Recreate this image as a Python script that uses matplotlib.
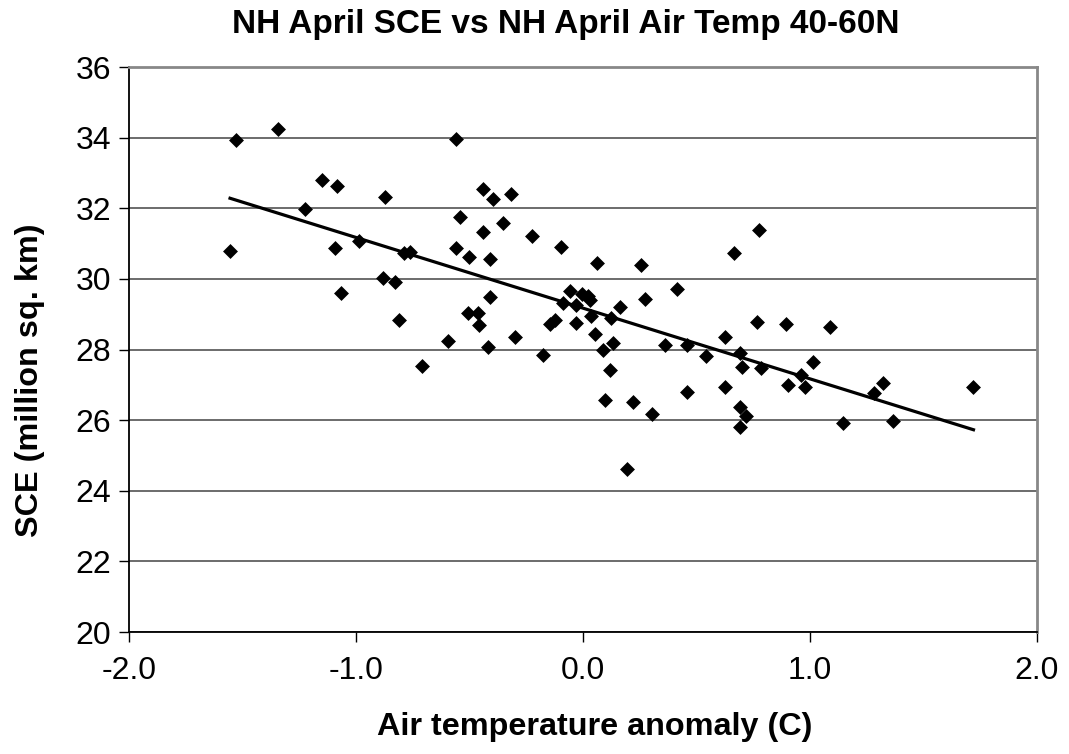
import matplotlib
matplotlib.use("Agg")
import matplotlib.pyplot as plt
import numpy as np

plt.rcParams["font.family"] = ["Liberation Sans", "DejaVu Sans"]

# Air temperature anomaly (C) vs April snow cover extent (million sq. km)
temp_anomaly = [
    -1.555, -1.529, -1.344, -1.223, -1.151, -1.085, -1.093, -1.067, -0.985, -0.874,
    -0.882, -0.827, -0.809, -0.790, -0.762, -0.708, -0.596, -0.560, -0.559, -0.542,
    -0.502, -0.505, -0.461, -0.457, -0.439, -0.395, -0.439, -0.410, -0.410, -0.420,
    -0.354, -0.319, -0.300, -0.226, -0.175, -0.145, -0.123, -0.098, -0.089, -0.057,
    -0.031, -0.031, -0.006, 0.023, 0.031, 0.034, 0.053, 0.060, 0.087, 0.097,
    0.119, 0.122, 0.134, 0.163, 0.192, 0.219, 0.257, 0.273, 0.302, 0.360,
    0.413, 0.460, 0.460, 0.542, 0.624, 0.624, 0.664, 0.692, 0.700, 0.692,
    0.718, 0.692, 0.765, 0.774, 0.783, 0.894, 0.903, 0.959, 0.980, 1.015,
    1.088, 1.144, 1.282, 1.320, 1.364, 1.720,
]
sce = [
    30.79, 33.93, 34.24, 31.98, 32.80, 32.63, 30.87, 29.61, 31.08, 32.33,
    30.02, 29.90, 28.84, 30.72, 30.77, 27.53, 28.25, 33.95, 30.87, 31.74,
    30.63, 29.03, 29.03, 28.69, 32.54, 32.25, 31.33, 30.55, 29.48, 28.06,
    31.57, 32.40, 28.36, 31.21, 27.84, 28.72, 28.84, 30.91, 29.31, 29.66,
    29.26, 28.76, 29.57, 29.51, 29.40, 28.95, 28.44, 30.44, 28.00, 26.57,
    27.42, 28.88, 28.19, 29.20, 24.62, 26.51, 30.38, 29.42, 26.16, 28.12,
    29.72, 28.12, 26.81, 27.81, 28.36, 26.94, 30.73, 27.91, 27.51, 26.36,
    26.12, 25.80, 28.78, 31.38, 27.48, 28.72, 26.99, 27.29, 26.93, 27.65,
    28.65, 25.93, 26.76, 27.06, 25.98, 26.94,
]

x_ticks = [-2.0, -1.0, 0.0, 1.0, 2.0]
y_ticks = [20, 22, 24, 26, 28, 30, 32, 34, 36]

x = np.array(temp_anomaly)
y = np.array(sce)

fig = plt.figure(figsize=(10.69, 7.54), dpi=100)
ax = fig.add_axes([0.1207, 0.1618, 0.8494, 0.7493])

ax.scatter(x, y, marker="D", s=7.6 ** 2, color="black", linewidths=0, zorder=3)

# linear trend line over the data range
slope, intercept = np.polyfit(x, y, 1)
fit_x = np.array([x.min(), x.max()])
ax.plot(fit_x, slope * fit_x + intercept, color="black", lw=2.3, zorder=4)

ax.set_xlim(-2.0, 2.0)
ax.set_ylim(20, 36)
ax.set_xticks(x_ticks)
ax.set_xticklabels([f"{t:.1f}" for t in x_ticks])
ax.set_yticks(y_ticks)

ax.yaxis.grid(True, color="#444444", lw=1.1)
ax.set_axisbelow(True)

ax.spines["left"].set_color("black")
ax.spines["left"].set_linewidth(1.3)
ax.spines["bottom"].set_color("black")
ax.spines["bottom"].set_linewidth(1.3)
ax.spines["top"].set_color("#888888")
ax.spines["top"].set_linewidth(2)
ax.spines["right"].set_color("#888888")
ax.spines["right"].set_linewidth(2)

ax.tick_params(axis="both", direction="out", length=7, width=1, labelsize=23, colors="black")
ax.tick_params(axis="x", pad=10)
ax.tick_params(axis="y", pad=6)

fig.suptitle("NH April SCE vs NH April Air Temp 40-60N", x=0.5295, y=0.967,
             va="center", fontsize=24, fontweight="bold")
ax.set_xlabel("Air temperature anomaly (C)", fontsize=23.3, fontweight="bold")
ax.set_ylabel("SCE (million sq. km)", fontsize=23.3, fontweight="bold")
ax.xaxis.set_label_coords(0.513, -0.168)
ax.yaxis.set_label_coords(-0.109, 0.446)
ax.xaxis.label.set_va("center")
ax.yaxis.label.set_va("center")

fig.savefig("out.png", dpi=100)
